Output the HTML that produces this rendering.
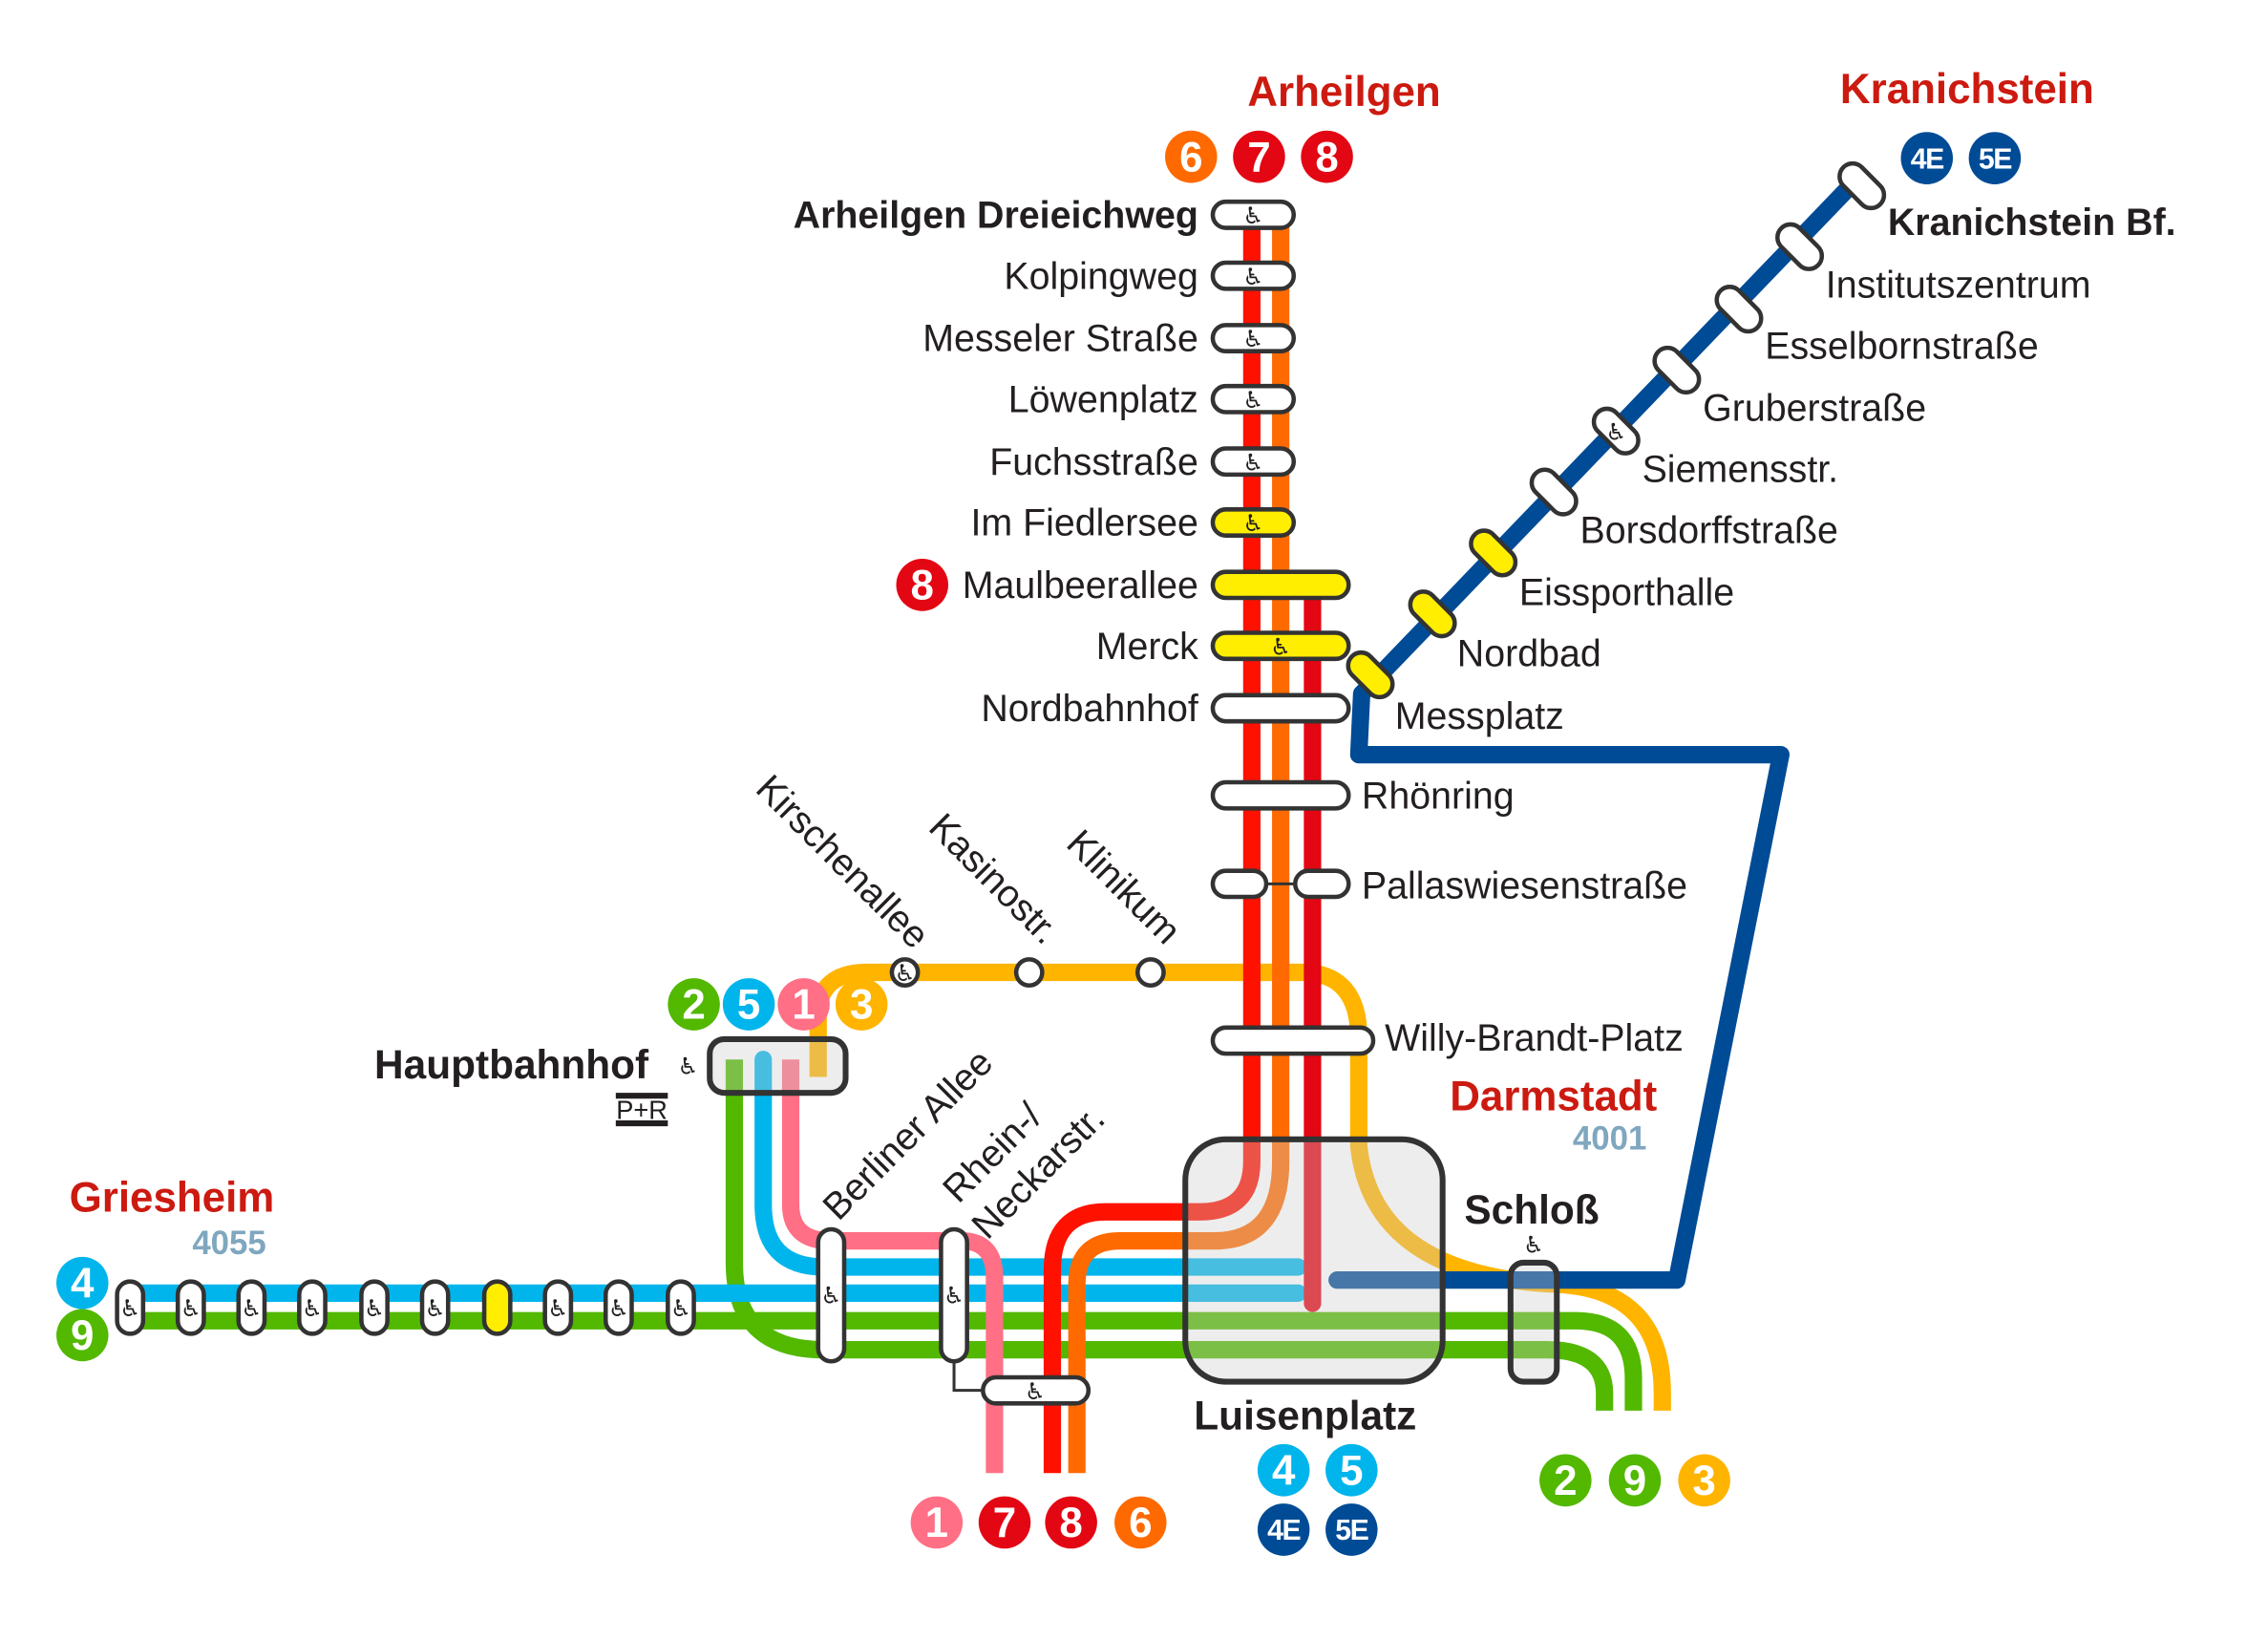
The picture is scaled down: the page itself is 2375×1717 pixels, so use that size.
<!DOCTYPE html>
<html><head><meta charset="utf-8"><style>
html,body{margin:0;padding:0;background:#fff}
svg{display:block}
text{font-family:"Liberation Sans Narrow","Liberation Sans",sans-serif;fill:#231f20}
.s{font-size:26px}
.b{font-weight:bold}
.t{font-size:29px;font-weight:bold;fill:#cc1a10}
.n{font-size:23px;font-weight:bold;fill:#7fa7bf}
.c{font-size:29px;font-weight:bold;fill:#fff;text-anchor:middle}
.ce{font-size:20px;font-weight:bold;fill:#fff;text-anchor:middle;letter-spacing:-1px}
.w{font-family:"DejaVu Sans",sans-serif;font-size:16px;text-anchor:middle;fill:#231f20}
.p{stroke:#333;stroke-width:3;fill:#fff}
.y{stroke:#333;stroke-width:3;fill:#ffee00}
</style></head><body>
<svg width="2375" height="1717" viewBox="0 0 1569 1130" preserveAspectRatio="none" xmlns="http://www.w3.org/2000/svg">
<g fill="none" stroke-width="12" stroke-linejoin="round">
<path d="M566 742 V700 Q566 670 600 670 H900 Q940 670 940 715 V790 Q950 880 1080 885 Q1150 890 1150 960 V972" stroke="#ffb400"/>
<path d="M90 910 H1090 Q1130 910 1130 950 V972" stroke="#52b800"/>
<path d="M508 730 V870 Q508 930 570 930 H1070 Q1110 930 1110 960 V972" stroke="#52b800"/>
<path d="M90 891 H898" stroke="#00b5ec" stroke-linecap="round"/>
<path d="M528 730 V830 Q528 873 570 873 H898" stroke="#00b5ec" stroke-linecap="round"/>
<path d="M547 730 V830 Q547 855 575 855 H665 Q688 855 688 880 V1015" stroke="#ff6f85"/>
<path d="M866 148 V800 Q866 835 830 835 H765 Q728 835 728 875 V1015" stroke="#ff1100"/>
<path d="M886 148 V800 Q886 855 840 855 H775 Q745 855 745 885 V1015" stroke="#ff6a00"/>
<path d="M908 403 V898" stroke="#e30613" stroke-linecap="round"/>
<path d="M1286 122 L942 478 L940 520 H1232 L1160 882 H925" stroke="#004b96" stroke-linecap="round"/>
</g>
<rect x="820" y="785" width="178" height="167" rx="28" fill="#ccc" fill-opacity="0.35" stroke="#333" stroke-width="4"/>
<rect x="1045" y="870" width="32" height="82" rx="9" fill="#ccc" fill-opacity="0.35" stroke="#333" stroke-width="4"/>
<rect x="491" y="716" width="94" height="37" rx="10" fill="#ccc" fill-opacity="0.35" stroke="#333" stroke-width="4"/>
<g>
<rect class="p" x="839" y="139" width="56" height="18" rx="9"/><text class="w" x="867" y="154">♿</text>
<rect class="p" x="839" y="181" width="56" height="18" rx="9"/><text class="w" x="867" y="196">♿</text>
<rect class="p" x="839" y="224" width="56" height="18" rx="9"/><text class="w" x="867" y="239">♿</text>
<rect class="p" x="839" y="266" width="56" height="18" rx="9"/><text class="w" x="867" y="281">♿</text>
<rect class="p" x="839" y="309" width="56" height="18" rx="9"/><text class="w" x="867" y="324">♿</text>
<rect class="y" x="839" y="351" width="56" height="18" rx="9"/><text class="w" x="867" y="366">♿</text>
<rect class="y" x="839" y="394" width="94" height="18" rx="9"/>
<rect class="y" x="839" y="436" width="94" height="18" rx="9"/><text class="w" x="886" y="451">♿</text>
<rect class="p" x="839" y="479" width="94" height="18" rx="9"/>
<rect class="p" x="839" y="539" width="94" height="18" rx="9"/>
<line x1="870" y1="609" x2="902" y2="609" stroke="#333" stroke-width="2"/>
<rect class="p" x="839" y="600" width="37" height="18" rx="9"/>
<rect class="p" x="896" y="600" width="37" height="18" rx="9"/>
<rect class="p" x="839" y="708" width="111" height="18" rx="9"/>
</g>
<g class="s" text-anchor="end">
<text class="b" x="829" y="157">Arheilgen Dreieichweg</text>
<text x="829" y="199">Kolpingweg</text>
<text x="829" y="242">Messeler Straße</text>
<text x="829" y="284">Löwenplatz</text>
<text x="829" y="327">Fuchsstraße</text>
<text x="829" y="369">Im Fiedlersee</text>
<text x="829" y="412">Maulbeerallee</text>
<text x="829" y="454">Merck</text>
<text x="829" y="497">Nordbahnhof</text>
</g>
<g class="s">
<text x="942" y="557">Rhönring</text>
<text x="942" y="619">Pallaswiesenstraße</text>
<text x="958" y="724">Willy-Brandt-Platz</text>
</g>
<g>
<g transform="translate(1288,128) rotate(45)"><rect class="p" x="-18" y="-9" width="36" height="18" rx="9"/></g>
<g transform="translate(1245,170) rotate(45)"><rect class="p" x="-18" y="-9" width="36" height="18" rx="9"/></g>
<g transform="translate(1203,213) rotate(45)"><rect class="p" x="-18" y="-9" width="36" height="18" rx="9"/></g>
<g transform="translate(1160,255) rotate(45)"><rect class="p" x="-18" y="-9" width="36" height="18" rx="9"/></g>
<g transform="translate(1118,297) rotate(45)"><rect class="p" x="-18" y="-9" width="36" height="18" rx="9"/></g><text class="w" x="1118" y="303">♿</text>
<g transform="translate(1075,339) rotate(45)"><rect class="p" x="-18" y="-9" width="36" height="18" rx="9"/></g>
<g transform="translate(1033,381) rotate(45)"><rect class="y" x="-18" y="-9" width="36" height="18" rx="9"/></g>
<g transform="translate(991,423) rotate(45)"><rect class="y" x="-18" y="-9" width="36" height="18" rx="9"/></g>
<g transform="translate(948,465) rotate(45)"><rect class="y" x="-18" y="-9" width="36" height="18" rx="9"/></g>
</g>
<g class="s">
<text class="b" x="1306" y="162">Kranichstein Bf.</text>
<text x="1263" y="205">Institutszentrum</text>
<text x="1221" y="247">Esselbornstraße</text>
<text x="1178" y="290">Gruberstraße</text>
<text x="1136" y="332">Siemensstr.</text>
<text x="1093" y="374">Borsdorffstraße</text>
<text x="1051" y="417">Eissporthalle</text>
<text x="1008" y="459">Nordbad</text>
<text x="965" y="502">Messplatz</text>
</g>
<circle class="p" cx="626" cy="670" r="9"/><text class="w" x="626" y="676">♿</text>
<circle class="p" cx="712" cy="670" r="9"/>
<circle class="p" cx="796" cy="670" r="9"/>
<g class="s">
<text transform="translate(632,655) rotate(45)" text-anchor="end">Kirschenallee</text>
<text transform="translate(722,652) rotate(45)" text-anchor="end">Kasinostr.</text>
<text transform="translate(806,652) rotate(45)" text-anchor="end">Klinikum</text>
<text transform="translate(580,842) rotate(-45)">Berliner Allee</text>
<text transform="translate(663,830) rotate(-45)">Rhein-/</text>
<text transform="translate(683,855) rotate(-45)">Neckarstr.</text>
</g>
<rect class="p" x="566" y="847" width="18" height="91" rx="9"/><text class="w" x="575" y="898">♿</text>
<path d="M660 938 V958 H680" stroke="#333" stroke-width="2" fill="none"/>
<rect class="p" x="651" y="847" width="18" height="91" rx="9"/><text class="w" x="660" y="898">♿</text>
<rect class="p" x="680" y="949" width="73" height="18" rx="9"/><text class="w" x="716" y="964">♿</text>
<g>
<rect class="p" x="81" y="883" width="18" height="36" rx="9"/><text class="w" x="90" y="907">♿</text>
<rect class="p" x="123" y="883" width="18" height="36" rx="9"/><text class="w" x="132" y="907">♿</text>
<rect class="p" x="165" y="883" width="18" height="36" rx="9"/><text class="w" x="174" y="907">♿</text>
<rect class="p" x="207" y="883" width="18" height="36" rx="9"/><text class="w" x="216" y="907">♿</text>
<rect class="p" x="250" y="883" width="18" height="36" rx="9"/><text class="w" x="259" y="907">♿</text>
<rect class="p" x="292" y="883" width="18" height="36" rx="9"/><text class="w" x="301" y="907">♿</text>
<rect class="y" x="335" y="883" width="18" height="36" rx="9"/>
<rect class="p" x="377" y="883" width="18" height="36" rx="9"/><text class="w" x="386" y="907">♿</text>
<rect class="p" x="419" y="883" width="18" height="36" rx="9"/><text class="w" x="428" y="907">♿</text>
<rect class="p" x="462" y="883" width="18" height="36" rx="9"/><text class="w" x="471" y="907">♿</text>
</g>
<text class="t" x="863" y="73">Arheilgen</text>
<text class="t" x="1273" y="71">Kranichstein</text>
<text class="t" x="48" y="835">Griesheim</text>
<text class="n" x="133" y="864">4055</text>
<text class="t" x="1003" y="765">Darmstadt</text>
<text class="n" x="1088" y="792">4001</text>
<text class="s b" x="1013" y="843" style="font-size:28px">Schloß</text>
<text class="w" x="1061" y="863">♿</text>
<text class="s b" x="826" y="985" style="font-size:28px">Luisenplatz</text>
<text class="s b" x="259" y="743" style="font-size:28px">Hauptbahnhof</text>
<text class="w" x="476" y="740">♿</text>
<line x1="426" y1="755" x2="462" y2="755" stroke="#231f20" stroke-width="4"/>
<line x1="426" y1="774" x2="462" y2="774" stroke="#231f20" stroke-width="4"/>
<text x="444" y="771" text-anchor="middle" style="font-size:18px">P+R</text>
<g>
<circle cx="824" cy="108" r="18" fill="#ff6a00"/><text class="c" x="824" y="118">6</text>
<circle cx="871" cy="108" r="18" fill="#e30613"/><text class="c" x="871" y="118">7</text>
<circle cx="918" cy="108" r="18" fill="#e30613"/><text class="c" x="918" y="118">8</text>
<circle cx="1333" cy="109" r="18" fill="#004b96"/><text class="ce" x="1333" y="116">4E</text>
<circle cx="1380" cy="109" r="18" fill="#004b96"/><text class="ce" x="1380" y="116">5E</text>
<circle cx="638" cy="403" r="18" fill="#e30613"/><text class="c" x="638" y="413">8</text>
<circle cx="480" cy="692" r="18" fill="#52b800"/><text class="c" x="480" y="702">2</text>
<circle cx="518" cy="692" r="18" fill="#00b5ec"/><text class="c" x="518" y="702">5</text>
<circle cx="556" cy="692" r="18" fill="#ff6f85"/><text class="c" x="556" y="702">1</text>
<circle cx="596" cy="692" r="18" fill="#ffb400"/><text class="c" x="596" y="702">3</text>
<circle cx="57" cy="884" r="18" fill="#00b5ec"/><text class="c" x="57" y="894">4</text>
<circle cx="57" cy="920" r="18" fill="#52b800"/><text class="c" x="57" y="930">9</text>
<circle cx="648" cy="1049" r="18" fill="#ff6f85"/><text class="c" x="648" y="1059">1</text>
<circle cx="695" cy="1049" r="18" fill="#e30613"/><text class="c" x="695" y="1059">7</text>
<circle cx="741" cy="1049" r="18" fill="#e30613"/><text class="c" x="741" y="1059">8</text>
<circle cx="789" cy="1049" r="18" fill="#ff6a00"/><text class="c" x="789" y="1059">6</text>
<circle cx="888" cy="1013" r="18" fill="#00b5ec"/><text class="c" x="888" y="1023">4</text>
<circle cx="935" cy="1013" r="18" fill="#00b5ec"/><text class="c" x="935" y="1023">5</text>
<circle cx="888" cy="1054" r="18" fill="#004b96"/><text class="ce" x="888" y="1061">4E</text>
<circle cx="935" cy="1054" r="18" fill="#004b96"/><text class="ce" x="935" y="1061">5E</text>
<circle cx="1083" cy="1020" r="18" fill="#52b800"/><text class="c" x="1083" y="1030">2</text>
<circle cx="1131" cy="1020" r="18" fill="#52b800"/><text class="c" x="1131" y="1030">9</text>
<circle cx="1179" cy="1020" r="18" fill="#ffb400"/><text class="c" x="1179" y="1030">3</text>
</g>
</svg>
</body></html>
